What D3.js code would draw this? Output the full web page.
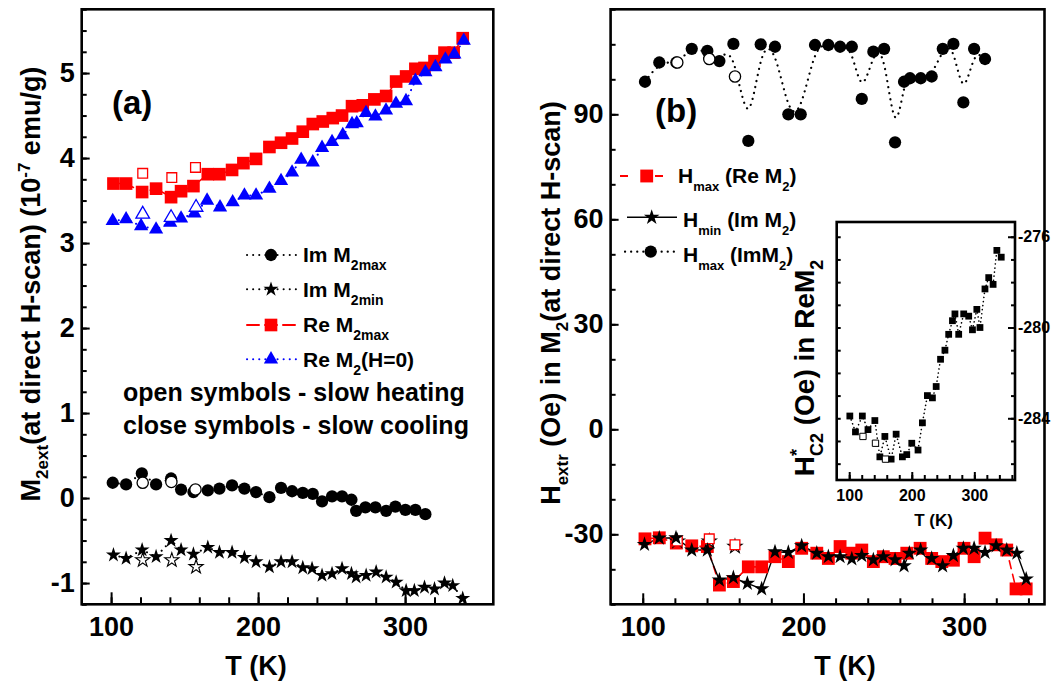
<!DOCTYPE html>
<html>
<head>
<meta charset="utf-8">
<script src="https://cdn.jsdelivr.net/npm/d3@7"></script>
<style>
  html, body { margin: 0; padding: 0; background: #fff; }
  svg { display: block; }
</style>
</head>
<body>
<svg id="fig" width="1058" height="696"></svg>
<script>
// ---------- Panel (a): extrema of the 2nd harmonic M2 vs T ----------
// Re M2max, slow cooling (filled) and slow heating (open)
const tReMaxCool = [101.6,110.2,121.1,130.6,140.8,147.6,156.0,165.8,173.7,182.3,190.0,198.6,207.7,215.6,223.1,230.4,237.2,244.0,250.8,257.1,263.9,271.2,279.1,287.1,293.9,300.7,307.0,313.2,320.0,326.8,333.0,339.2];
const reMaxCool  = [3.70,3.70,3.60,3.64,3.54,3.61,3.67,3.81,3.81,3.86,3.94,3.99,4.13,4.18,4.23,4.31,4.40,4.43,4.47,4.50,4.61,4.62,4.69,4.73,4.90,4.96,5.05,5.06,5.14,5.24,5.24,5.41];
const tReMaxHeat = [121.5,141.3,157.4];
const reMaxHeat  = [3.82,3.77,3.89];
// Re M2(H=0)
const tReZeroCool = [101.1,110.2,120.4,130.6,140.2,147.6,156.7,165.3,174.1,182.7,190.7,198.6,207.7,215.6,223.1,229.3,237.2,243.5,250.3,257.6,263.9,267.1,273.4,279.8,287.0,293.8,300.6,307.0,313.8,320.6,327.4,333.5,339.9];
const reZeroCool  = [3.26,3.28,3.20,3.16,3.24,3.29,3.35,3.50,3.42,3.48,3.56,3.56,3.64,3.73,3.83,3.98,3.95,4.12,4.19,4.27,4.40,4.41,4.53,4.49,4.56,4.64,4.67,4.91,5.01,5.07,5.16,5.22,5.38];
const tReZeroHeat = [121.5,140.8,157.8];
const reZeroHeat  = [3.34,3.30,3.42];
// Im M2max
const tImMaxCool = [101.1,110.2,120.9,130.6,140.8,147.6,156.0,165.8,173.7,182.3,190.7,198.6,207.7,215.6,223.1,230.4,237.2,243.5,250.3,257.1,263.5,266.7,273.0,279.8,287.1,293.4,300.2,307.0,313.8];
const imMaxCool  = [0.18,0.16,0.29,0.16,0.23,0.10,0.07,0.09,0.11,0.15,0.11,0.07,0.01,0.12,0.08,0.06,0.05,-0.04,0.02,0.02,-0.02,-0.15,-0.11,-0.11,-0.15,-0.10,-0.14,-0.14,-0.19];
const tImMaxHeat = [121.5,141.0,157.4];
const imMaxHeat  = [0.18,0.19,0.10];
// Im M2min
const tImMinCool = [101.6,110.2,121.1,130.6,140.8,147.6,156.0,165.8,173.7,182.3,190.7,198.6,207.7,215.6,223.1,230.4,236.7,243.5,250.3,257.1,263.5,266.7,273.5,280.3,287.1,293.9,300.7,306.3,313.2,320.0,326.8,332.4,339.2];
const imMinCool  = [-0.67,-0.71,-0.61,-0.69,-0.50,-0.61,-0.66,-0.58,-0.64,-0.64,-0.70,-0.75,-0.81,-0.75,-0.75,-0.82,-0.83,-0.91,-0.89,-0.83,-0.89,-0.93,-0.91,-0.87,-0.93,-0.99,-1.09,-1.09,-1.05,-1.07,-1.00,-1.03,-1.18];
const tImMinHeat = [121.5,141.3,157.8];
const imMinHeat  = [-0.73,-0.73,-0.81];

// ---------- Panel (b): fields of the extrema, H_extr (Oe) ----------
const tHmaxImCool = [101.4,110.3,120.9,130.5,140.2,147.7,156.4,165.7,173.4,182.3,190.6,198.3,207.2,215.5,222.8,230.1,236.3,243.5,250.2,257.0,262.6,266.3,273.0,279.8,286.7,293.3,299.5,306.2,313.0];
const hMaxImCool  = [99.3,104.8,104.8,108.7,108.1,105.2,110.1,82.4,110.0,109.3,90.0,90.0,109.8,109.8,109.3,109.3,94.4,107.9,108.7,82.0,99.3,100.3,100.3,100.8,108.7,110.1,93.4,108.7,105.8];
const tHmaxImHeat = [121.5,141.4,157.4];
const hMaxImHeat  = [104.8,105.8,100.8];

const tHminImCool = [101.1,110.3,120.7,130.5,140.2,147.7,156.4,165.1,174.0,182.3,190.6,198.9,208.3,215.5,222.8,230.1,236.3,243.5,249.7,257.0,262.6,265.9,272.9,279.8,286.6,293.3,299.5,306.2,313.0,319.9,326.5,332.8,338.6];
const hMinImCool  = [-32.9,-31.1,-31.0,-34.5,-34.5,-43.1,-42.4,-44.0,-45.6,-35.0,-35.2,-33.3,-35.4,-36.4,-36.4,-37.0,-36.1,-37.3,-36.4,-37.3,-39.0,-35.4,-34.5,-36.9,-39.0,-36.1,-34.0,-34.0,-35.2,-33.3,-34.5,-35.4,-42.8];
const tHminImHeat = [121.5,141.4,157.4];
const hMinImHeat  = [-32.0,-32.0,-33.5];

const tHmaxReCool = [101.4,110.3,120.9,130.5,140.2,147.7,156.4,165.7,174.0,182.3,190.6,198.9,208.3,215.5,222.8,230.1,236.3,243.5,249.7,257.0,264.3,272.6,279.8,286.1,293.3,299.9,306.2,313.0,319.9,326.5,332.3,338.6];
const hMaxReCool  = [-31.3,-31.0,-32.5,-33.3,-33.5,-44.5,-43.5,-39.3,-39.3,-36.4,-37.8,-34.0,-35.4,-36.9,-33.5,-35.4,-34.5,-37.8,-36.4,-36.9,-35.4,-34.0,-36.9,-37.8,-37.4,-34.0,-36.4,-31.1,-33.0,-34.5,-45.6,-45.6];
const tHmaxReHeat = [121.5,141.4,157.4];
const hMaxReHeat  = [-31.9,-31.3,-33.0];

// ---------- Inset: H*_C2 (Oe) in Re M2 ----------
const tHc2Cool = [101,110,121,130,141,149,157,167,175,185,192,200,210,217,225,233,239,246,253,259,265,269,275,283,291,297,304,309,317,323,330,336,343];
const hc2Cool  = [-283.9,-284.6,-283.9,-284.5,-284.1,-285.7,-284.8,-285.8,-284.7,-285.7,-285.6,-285.1,-285.4,-284.2,-283.0,-283.1,-282.6,-281.4,-281.0,-280.3,-279.7,-279.4,-280.3,-279.4,-279.5,-280.1,-279.2,-280.0,-278.3,-277.8,-278.1,-276.6,-276.9];
const tHc2Heat = [122,142,158];
const hc2Heat  = [-284.8,-285.1,-285.8];

// ---------- Tick labels ----------
const tLabels   = [100, 200, 300];
const mLabels   = [-1, 0, 1, 2, 3, 4, 5];
const hLabels   = [-30, 0, 30, 60, 90];
const hc2Labels = [-284, -280, -276];

// ---------- Drawing ----------
const FONT = '"Liberation Sans", Arial, Helvetica, sans-serif';
const RED = '#ff0000', BLUE = '#0000ff';
const svg = d3.select('#fig')
  .attr('font-family', FONT).attr('font-weight', 'bold');
svg.append('rect').attr('width', 1058).attr('height', 696).attr('fill', '#fff');

const pts = (t, v) => t.map((d, i) => [d, v[i]]);

const xa = d3.scaleLinear().domain([80, 360]).range([81.7, 493.3]);
const ya = d3.scaleLinear().domain([-1.25, 5.75]).range([604.3, 9.3]);
const xb = d3.scaleLinear().domain([80, 350]).range([610.6, 1044.5]);
const yb = d3.scaleLinear().domain([-50, 120]).range([604.3, 9.3]);
const xi = d3.scaleLinear().domain([80, 365]).range([836.7, 1015]);
const yi = d3.scaleLinear().domain([-286.72, -275.35]).range([480, 222]);

function styleAxis(sel, size) {
  sel.select('.domain').remove();
  sel.attr('font-family', FONT).attr('font-weight', 'bold').attr('font-size', size);
  sel.selectAll('.tick line').attr('stroke', '#000').attr('stroke-width', 2);
  sel.selectAll('.tick text').attr('fill', '#000');
}

function frame(g, x, y) {
  const [x0, x1] = x.range(), [y0, y1] = y.range();
  g.append('rect').attr('x', x0).attr('y', y1)
    .attr('width', x1 - x0).attr('height', y0 - y1)
    .attr('fill', 'none').attr('stroke', '#000').attr('stroke-width', 2.6);
}

function bottomAxis(g, x, y, major, minor, majLen, minLen, pad, size) {
  const y0 = y.range()[0];
  g.append('g').attr('transform', `translate(0,${y0})`)
    .call(d3.axisBottom(x).tickValues(minor).tickSize(-minLen).tickFormat(''))
    .call(s => styleAxis(s, size));
  g.append('g').attr('transform', `translate(0,${y0})`)
    .call(d3.axisBottom(x).tickValues(major).tickSize(-majLen).tickPadding(pad).tickFormat(d => String(d)))
    .call(s => styleAxis(s, size));
}

function leftAxis(g, x, y, major, minor, majLen, minLen, pad, size, labels) {
  const x0 = x.range()[0];
  g.append('g').attr('transform', `translate(${x0},0)`)
    .call(d3.axisLeft(y).tickValues(minor).tickSize(-minLen).tickFormat(''))
    .call(s => styleAxis(s, size));
  g.append('g').attr('transform', `translate(${x0},0)`)
    .call(d3.axisLeft(y).tickValues(major).tickSize(-majLen).tickPadding(pad)
      .tickFormat(labels ? (d => String(d)) : ''))
    .call(s => styleAxis(s, size));
}

function marks(g, x, y, data, type, size, fill, stroke, sw) {
  g.append('g').selectAll('path').data(data).join('path')
    .attr('transform', d => `translate(${x(d[0])},${y(d[1])})`)
    .attr('d', d3.symbol(type, size))
    .attr('fill', fill).attr('stroke', stroke).attr('stroke-width', sw);
}

function curve(g, x, y, data, kind, color, width, dash) {
  g.append('path').datum(data)
    .attr('d', d3.line().x(d => x(d[0])).y(d => y(d[1])).curve(kind))
    .attr('fill', 'none').attr('stroke', color).attr('stroke-width', width)
    .attr('stroke-dasharray', dash).attr('stroke-linecap', 'round');
}

// rich text: parts like {t:'M'}, {t:'2ext', sub:true}, {t:'-7', sup:true}
function rich(text, parts, subSize, subShift, supShift) {
  let cur = 0;
  parts.forEach(p => {
    const target = p.sub ? subShift : (p.sup ? -supShift : 0);
    const ts = text.append('tspan').text(p.t);
    if (target - cur !== 0) ts.attr('dy', target - cur);
    if (p.sub || p.sup) ts.attr('font-size', subSize);
    if (p.dx) ts.attr('dx', p.dx);
    cur = target;
  });
  return text;
}

const DOT = '0.1,6';

// ================= Panel (a) =================
const ga = svg.append('g');
curve(ga, xa, ya, pts(tReMaxCool, reMaxCool), d3.curveLinear, RED, 1.5, '8,5');
curve(ga, xa, ya, pts(tReZeroCool, reZeroCool), d3.curveLinear, BLUE, 2, DOT);
curve(ga, xa, ya, pts(tImMaxCool, imMaxCool), d3.curveLinear, '#000', 2, DOT);
curve(ga, xa, ya, pts(tImMinCool, imMinCool), d3.curveLinear, '#000', 2, DOT);

marks(ga, xa, ya, pts(tReMaxCool, reMaxCool), d3.symbolSquare, 160, RED, 'none', 0);
marks(ga, xa, ya, pts(tReMaxHeat, reMaxHeat), d3.symbolSquare, 95, '#fff', RED, 1.3);
marks(ga, xa, ya, pts(tReZeroCool, reZeroCool), d3.symbolTriangle, 88, BLUE, 'none', 0);
marks(ga, xa, ya, pts(tReZeroHeat, reZeroHeat), d3.symbolTriangle, 80, '#fff', BLUE, 1.3);
marks(ga, xa, ya, pts(tImMaxCool, imMaxCool), d3.symbolCircle, 118, '#000', 'none', 0);
marks(ga, xa, ya, pts(tImMaxHeat, imMaxHeat), d3.symbolCircle, 100, '#fff', '#000', 1.3);
marks(ga, xa, ya, pts(tImMinCool, imMinCool), d3.symbolStar, 70, '#000', 'none', 0);
marks(ga, xa, ya, pts(tImMinHeat, imMinHeat), d3.symbolStar, 62, '#fff', '#000', 1.1);

bottomAxis(ga, xa, ya, tLabels, d3.range(100, 360, 20), 12, 7, 13, 27);
leftAxis(ga, xa, ya, mLabels, d3.range(-1.25, 5.76, 0.25), 8, 5, 7, 27, true);
frame(ga, xa, ya);

ga.append('text').attr('x', 112).attr('y', 114).attr('font-size', 33).text('(a)');

// legend (a)
const legA = [
  { y: 255,   parts: [{t:'Im M'}, {t:'2max', sub:true}], sym: d3.symbolCircle, size: 118, color: '#000', dash: DOT, w: 2 },
  { y: 289.3, parts: [{t:'Im M'}, {t:'2min', sub:true}], sym: d3.symbolStar, size: 70, color: '#000', dash: DOT, w: 2 },
  { y: 325,   parts: [{t:'Re M'}, {t:'2max', sub:true}], sym: d3.symbolSquare, size: 160, color: RED, dash: '12,6', w: 2 },
  { y: 359.3, parts: [{t:'Re M'}, {t:'2', sub:true}, {t:'(H=0)'}], sym: d3.symbolTriangle, size: 88, color: BLUE, dash: DOT, w: 2 }
];
legA.forEach(r => {
  ga.append('line').attr('x1', 247).attr('x2', 296).attr('y1', r.y).attr('y2', r.y)
    .attr('stroke', r.color).attr('stroke-width', r.w).attr('stroke-dasharray', r.dash)
    .attr('stroke-linecap', 'round');
  ga.append('path').attr('transform', `translate(271,${r.y})`).attr('d', d3.symbol(r.sym, r.size))
    .attr('fill', r.color);
  rich(ga.append('text').attr('x', 303).attr('y', r.y + 7.4).attr('font-size', 21), r.parts, 14, 8, 8);
});
ga.append('text').attr('x', 123).attr('y', 400.5).attr('font-size', 25).text('open symbols - slow heating');
ga.append('text').attr('x', 123).attr('y', 433.5).attr('font-size', 25).text('close symbols - slow cooling');

// axis titles (a)
rich(ga.append('text').attr('transform', 'translate(40,284) rotate(-90)')
  .attr('text-anchor', 'middle').attr('font-size', 27),
  [{t:'M'}, {t:'2ext', sub:true}, {t:'(at direct H-scan) (10'}, {t:'-7', sup:true}, {t:' emu/g)'}], 17, 8, 10);
ga.append('text').attr('x', 256).attr('y', 675).attr('text-anchor', 'middle').attr('font-size', 27).text('T (K)');

// ================= Panel (b) =================
const gb = svg.append('g');
curve(gb, xb, yb, pts(tHmaxImCool, hMaxImCool), d3.curveBasis, '#000', 2.2, DOT);
curve(gb, xb, yb, pts(tHmaxReCool, hMaxReCool), d3.curveLinear, RED, 1.6, '8,6');
curve(gb, xb, yb, pts(tHminImCool, hMinImCool), d3.curveLinear, '#000', 1.4, null);

marks(gb, xb, yb, pts(tHmaxImCool, hMaxImCool), d3.symbolCircle, 118, '#000', 'none', 0);
marks(gb, xb, yb, pts(tHmaxImHeat, hMaxImHeat), d3.symbolCircle, 100, '#fff', '#000', 1.3);
marks(gb, xb, yb, pts(tHmaxReCool, hMaxReCool), d3.symbolSquare, 165, RED, 'none', 0);
marks(gb, xb, yb, pts(tHminImHeat, hMinImHeat), d3.symbolStar, 62, '#fff', '#000', 1.1);
marks(gb, xb, yb, pts(tHmaxReHeat, hMaxReHeat), d3.symbolSquare, 95, '#fff', RED, 1.3);
marks(gb, xb, yb, pts(tHminImCool, hMinImCool), d3.symbolStar, 75, '#000', 'none', 0);

bottomAxis(gb, xb, yb, tLabels, d3.range(100, 350, 20), 11, 6, 13, 27);
leftAxis(gb, xb, yb, hLabels, d3.range(-50, 121, 10), 8, 5, 7, 27, true);
frame(gb, xb, yb);

gb.append('text').attr('x', 655).attr('y', 122).attr('font-size', 33).text('(b)');

// legend (b)
gb.append('line').attr('x1', 620).attr('x2', 664).attr('y1', 176).attr('y2', 176)
  .attr('stroke', RED).attr('stroke-width', 2).attr('stroke-dasharray', '8,27');
gb.append('path').attr('transform', 'translate(646.7,176)').attr('d', d3.symbol(d3.symbolSquare, 165)).attr('fill', RED);
rich(gb.append('text').attr('x', 678).attr('y', 183.3).attr('font-size', 21),
  [{t:'H'}, {t:'max', sub:true}, {t:' (Re M'}, {t:'2', sub:true}, {t:')'}], 13, 8, 8);

gb.append('line').attr('x1', 627).attr('x2', 677).attr('y1', 217.3).attr('y2', 217.3)
  .attr('stroke', '#000').attr('stroke-width', 1.4);
gb.append('path').attr('transform', 'translate(651.7,217.3)').attr('d', d3.symbol(d3.symbolStar, 75)).attr('fill', '#000');
rich(gb.append('text').attr('x', 683).attr('y', 226.7).attr('font-size', 21),
  [{t:'H'}, {t:'min', sub:true}, {t:' (Im M'}, {t:'2', sub:true}, {t:')'}], 13, 8, 8);

gb.append('line').attr('x1', 625).attr('x2', 676).attr('y1', 251.7).attr('y2', 251.7)
  .attr('stroke', '#000').attr('stroke-width', 2.2).attr('stroke-dasharray', DOT).attr('stroke-linecap', 'round');
gb.append('path').attr('transform', 'translate(650.7,251.7)').attr('d', d3.symbol(d3.symbolCircle, 118)).attr('fill', '#000');
rich(gb.append('text').attr('x', 683).attr('y', 261.7).attr('font-size', 21),
  [{t:'H'}, {t:'max', sub:true}, {t:' (ImM'}, {t:'2', sub:true}, {t:')'}], 13, 8, 8);

// axis titles (b)
rich(gb.append('text').attr('transform', 'translate(560,303) rotate(-90)')
  .attr('text-anchor', 'middle').attr('font-size', 27),
  [{t:'H'}, {t:'extr', sub:true}, {t:' (Oe) in M'}, {t:'2', sub:true}, {t:'(at direct H-scan)'}], 17, 8, 10);
gb.append('text').attr('x', 845).attr('y', 675).attr('text-anchor', 'middle').attr('font-size', 27).text('T (K)');

// ================= Inset =================
const gi = svg.append('g');
gi.append('rect').attr('x', 836.7).attr('y', 222).attr('width', 1015 - 836.7).attr('height', 480 - 222).attr('fill', '#fff');
curve(gi, xi, yi, pts(tHc2Cool, hc2Cool), d3.curveLinear, '#000', 1.6, '0.1,4');
marks(gi, xi, yi, pts(tHc2Cool, hc2Cool), d3.symbolSquare, 46, '#000', 'none', 0);
marks(gi, xi, yi, pts(tHc2Heat, hc2Heat), d3.symbolSquare, 40, '#fff', '#000', 1);

bottomAxis(gi, xi, yi, tLabels, d3.range(100, 365, 20), 8, 5, 10, 16);
leftAxis(gi, xi, yi, [], d3.range(-286, -275, 1), 5, 4, 4, 16, false);
// right axis carries the labels
gi.append('g').attr('transform', `translate(${xi.range()[1]},0)`)
  .call(d3.axisRight(yi).tickValues(d3.range(-286, -275, 1)).tickSize(-4).tickFormat(''))
  .call(s => styleAxis(s, 16));
gi.append('g').attr('transform', `translate(${xi.range()[1]},0)`)
  .call(d3.axisRight(yi).tickValues(hc2Labels).tickSize(-7).tickPadding(3).tickFormat(d => String(d)))
  .call(s => styleAxis(s, 16));
frame(gi, xi, yi);

gi.append('text').attr('x', 933.5).attr('y', 526).attr('text-anchor', 'middle').attr('font-size', 17).text('T (K)');
rich(gi.append('text').attr('transform', 'translate(814,368) rotate(-90)')
  .attr('text-anchor', 'middle').attr('font-size', 28),
  [{t:'H'}, {t:'*', sup:true}, {t:'C2', sub:true, dx:-7}, {t:' (Oe) in ReM'}, {t:'2', sub:true}], 18, 9, 11);
</script>
</body>
</html>
